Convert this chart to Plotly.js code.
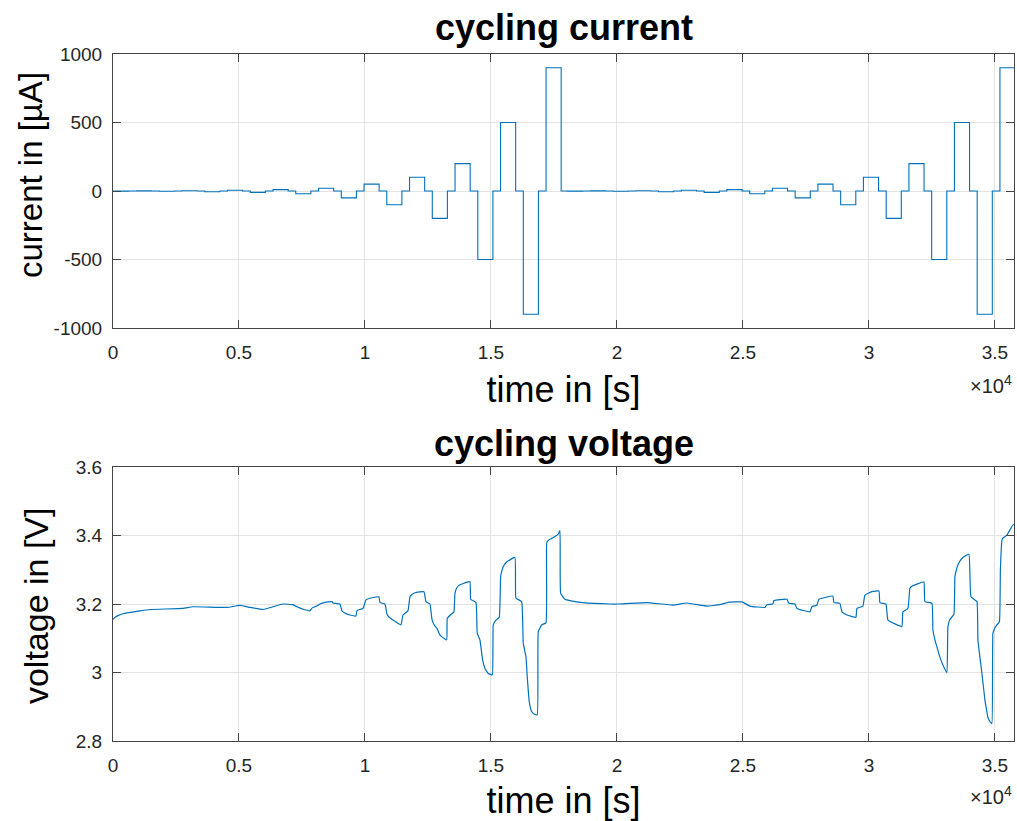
<!DOCTYPE html>
<html>
<head>
<meta charset="utf-8">
<script src="https://cdn.plot.ly/plotly-3.0.1.min.js"></script>
<style>html,body{margin:0;padding:0;background:#fff;}#chart{width:1017px;height:821px;}</style>
</head>
<body>
<div id="chart"></div>
<script>
// ---- current pulses (s, µA) ----
var pulseStart = [30, 933, 1836, 2739, 3642, 4545, 5448, 6351, 7254, 8157, 9060, 9963, 10866, 11769, 12672, 13575, 14478, 15381, 16284, 17187,
                  18043, 18946, 19849, 20752, 21655, 22558, 23461, 24364, 25267, 26170, 27073, 27976, 28879, 29782, 30685, 31588, 32491, 33394, 34297, 35200];
var pulseEnd   = [630, 1533, 2436, 3339, 4242, 5145, 6048, 6951, 7854, 8757, 9660, 10563, 11466, 12369, 13272, 14175, 15078, 15981, 16884, 17787,
                  18643, 19546, 20449, 21352, 22255, 23158, 24061, 24964, 25867, 26770, 27673, 28576, 29479, 30382, 31285, 32188, 33091, 33994, 34897, 35760];
var pulseCurrent = [-1, 1, -2, 2, -5, 5, -10, 10, -20, 20, -50, 50, -100, 100, -200, 200, -500, 500, -900, 900,
                    -1, 1, -2, 2, -5, 5, -10, 10, -20, 20, -50, 50, -100, 100, -200, 200, -500, 500, -900, 900];

// ---- voltage (s, V) ----
var voltTime = [0, 79, 198, 357, 595, 992, 1468, 2778, 3175, 4524, 5040, 5437, 5952, 6349, 6746, 7143, 7302, 7579, 7817, 7897,
  8135, 8214, 8413, 8690, 8730, 9008, 9087, 9246, 9405, 9643, 9683, 9921, 10040, 10159, 10317, 10556, 10595, 10794, 10873, 10952,
  11111, 11429, 11508, 11706, 11786, 11865, 11984, 12341, 12421, 12579, 12659, 12738, 12857, 12976, 13242, 13266, 13440, 13532, 13571, 13631,
  13702, 13901, 14167, 14194, 14405, 14456, 14563, 14671, 14762, 14893, 15052, 15091, 15198, 15329, 15385, 15437, 15488, 15575, 15687, 15952,
  15992, 16218, 16282, 16389, 16440, 16520, 16615, 16706, 16837, 16877, 17012, 17183, 17210, 17262, 17341, 17540, 17659, 17738, 17766, 17937,
  18135, 18651, 19722, 20040, 21190, 22222, 22778, 23571, 24087, 24405, 24960, 25278, 25873, 25952, 26190, 26230, 26746, 26825, 27063, 27143,
  27659, 27738, 27937, 28016, 28571, 28611, 28849, 28929, 29127, 29484, 29524, 29762, 29841, 30119, 30397, 30437, 30675, 30754, 31032, 31310,
  31349, 31548, 31627, 31706, 31905, 32183, 32222, 32500, 32540, 32619, 32698, 32817, 32937, 33095, 33135, 33214, 33373, 33413, 33472, 33532,
  33611, 33730, 33968, 34048, 34286, 34325, 34405, 34484, 34603, 34683, 34722, 34802, 34881, 34921, 35000, 35079, 35179, 35218, 35278, 35317,
  35476, 35714, 35754];
var voltValue = [3.155, 3.161, 3.166, 3.171, 3.175, 3.179, 3.184, 3.187, 3.192, 3.190, 3.196, 3.190, 3.184, 3.192, 3.200, 3.198, 3.192, 3.184, 3.180, 3.188,
  3.196, 3.200, 3.205, 3.207, 3.203, 3.200, 3.180, 3.172, 3.168, 3.165, 3.181, 3.187, 3.212, 3.216, 3.219, 3.221, 3.204, 3.200, 3.170, 3.162,
  3.153, 3.139, 3.168, 3.180, 3.221, 3.228, 3.233, 3.236, 3.207, 3.200, 3.155, 3.140, 3.129, 3.109, 3.095, 3.158, 3.171, 3.177, 3.231, 3.245,
  3.253, 3.260, 3.265, 3.214, 3.204, 3.114, 3.095, 3.036, 3.012, 2.997, 2.993, 3.139, 3.153, 3.161, 3.280, 3.298, 3.309, 3.319, 3.326, 3.336,
  3.217, 3.207, 3.085, 3.046, 2.988, 2.915, 2.886, 2.879, 2.876, 3.119, 3.139, 3.145, 3.377, 3.385, 3.389, 3.397, 3.403, 3.414, 3.231, 3.214,
  3.210, 3.204, 3.200, 3.200, 3.204, 3.197, 3.203, 3.194, 3.198, 3.205, 3.206, 3.194, 3.190, 3.198, 3.200, 3.210, 3.214, 3.202, 3.200, 3.187,
  3.177, 3.192, 3.197, 3.214, 3.223, 3.204, 3.202, 3.177, 3.168, 3.161, 3.187, 3.194, 3.226, 3.236, 3.238, 3.204, 3.200, 3.153, 3.142, 3.134,
  3.177, 3.187, 3.246, 3.252, 3.258, 3.265, 3.207, 3.202, 3.124, 3.095, 3.075, 3.045, 3.022, 3.000, 3.134, 3.155, 3.170, 3.280, 3.300, 3.314,
  3.325, 3.336, 3.346, 3.221, 3.207, 3.095, 3.045, 2.998, 2.920, 2.885, 2.869, 2.857, 2.851, 3.114, 3.130, 3.139, 3.148, 3.300, 3.385, 3.392,
  3.401, 3.431, 3.432];

// ---- ticks ----
var timeTickVals = [0, 5000, 10000, 15000, 20000, 25000, 30000, 35000];
var timeTickText = ['0', '0.5', '1', '1.5', '2', '2.5', '3', '3.5'];
var currentTickVals = [-1000, -500, 0, 500, 1000];
var currentTickText = ['-1000', '-500', '0', '500', '1000'];
var voltTickVals = [2.8, 3.0, 3.2, 3.4, 3.6];
var voltTickText = ['2.8', '3', '3.2', '3.4', '3.6'];

// build step series from pulse table
var curT = [0], curI = [0];
for (var i = 0; i < pulseStart.length; i++) {
  curT.push(pulseStart[i]); curI.push(pulseCurrent[i]);
  curT.push(pulseEnd[i]); curI.push(i === pulseStart.length - 1 ? pulseCurrent[i] : 0);
}

var lineColor = '#0072BD';
var axColor = '#262626';
var gridColor = '#e3e3e3';
var fontFam = 'Liberation Sans, Arial, Helvetica, sans-serif';

function xax(anchor, standoff) {
  return {
    anchor: anchor, domain: [0.1111, 0.9971], range: [0, 35760],
    tickmode: 'array', tickvals: timeTickVals, ticktext: timeTickText,
    showgrid: true, gridcolor: gridColor, gridwidth: 1, zeroline: false,
    showline: true, linecolor: '#444', linewidth: 1, mirror: 'ticks',
    ticks: 'inside', ticklen: 8, tickcolor: '#444', tickwidth: 1,
    ticklabelstandoff: 7,
    tickfont: {family: fontFam, size: 19, color: axColor},
    title: {text: 'time in [s]', font: {family: fontFam, size: 36, color: '#000'}, standoff: standoff},
    automargin: false
  };
}
function yax(anchor, domain, range, tv, tt) {
  return {
    anchor: anchor, domain: domain, range: range,
    tickmode: 'array', tickvals: tv, ticktext: tt,
    showgrid: true, gridcolor: gridColor, gridwidth: 1, zeroline: false,
    showline: true, linecolor: '#444', linewidth: 1, mirror: 'ticks',
    ticks: 'inside', ticklen: 8, tickcolor: '#444', tickwidth: 1,
    ticklabelstandoff: 6,
    tickfont: {family: fontFam, size: 19, color: axColor},
    automargin: false
  };
}

var data = [
  {x: curT, y: curI, type: 'scatter', mode: 'lines', line: {color: lineColor, width: 1.1, shape: 'hv'}, xaxis: 'x', yaxis: 'y', hoverinfo: 'x+y'},
  {x: voltTime, y: voltValue, type: 'scatter', mode: 'lines', line: {color: lineColor, width: 1.2, shape: 'spline', smoothing: 0.3}, xaxis: 'x2', yaxis: 'y2', hoverinfo: 'x+y'}
];

var layout = {
  width: 1017, height: 821,
  margin: {l: 0, r: 0, t: 0, b: 0},
  paper_bgcolor: '#fff', plot_bgcolor: '#fff',
  showlegend: false,
  xaxis: xax('y', 15),
  yaxis: yax('x', [0.6005, 0.9342], [-1000, 1000], currentTickVals, currentTickText),
  xaxis2: xax('y2', 15),
  yaxis2: yax('x2', [0.0974, 0.4312], [2.8, 3.6], voltTickVals, voltTickText),
  annotations: [
    {text: '<b>cycling current</b>', xref: 'paper', yref: 'paper', x: 0.5541, y: 0.966, xanchor: 'center', yanchor: 'middle', showarrow: false,
     font: {family: fontFam, size: 36, color: '#000'}},
    {text: '<b>cycling voltage</b>', xref: 'paper', yref: 'paper', x: 0.5541, y: 0.4604, xanchor: 'center', yanchor: 'middle', showarrow: false,
     font: {family: fontFam, size: 36, color: '#000'}},
    {text: 'current in [µA]', xref: 'paper', yref: 'paper', x: 0.0295, y: 0.7868, xanchor: 'center', yanchor: 'middle', showarrow: false,
     textangle: -90, font: {family: fontFam, size: 33, color: '#000'}},
    {text: 'voltage in [V]', xref: 'paper', yref: 'paper', x: 0.0355, y: 0.2619, xanchor: 'center', yanchor: 'middle', showarrow: false,
     textangle: -90, font: {family: fontFam, size: 34, color: '#000'}},
    {text: '×10<sup>4</sup>', xref: 'paper', yref: 'paper', x: 0.9971, y: 0.532, xanchor: 'right', yanchor: 'middle', showarrow: false,
     font: {family: fontFam, size: 20, color: axColor}},
    {text: '×10<sup>4</sup>', xref: 'paper', yref: 'paper', x: 0.9971, y: 0.031, xanchor: 'right', yanchor: 'middle', showarrow: false,
     font: {family: fontFam, size: 20, color: axColor}}
  ]
};

Plotly.newPlot('chart', data, layout, {displayModeBar: false, staticPlot: true});
</script>
</body>
</html>
